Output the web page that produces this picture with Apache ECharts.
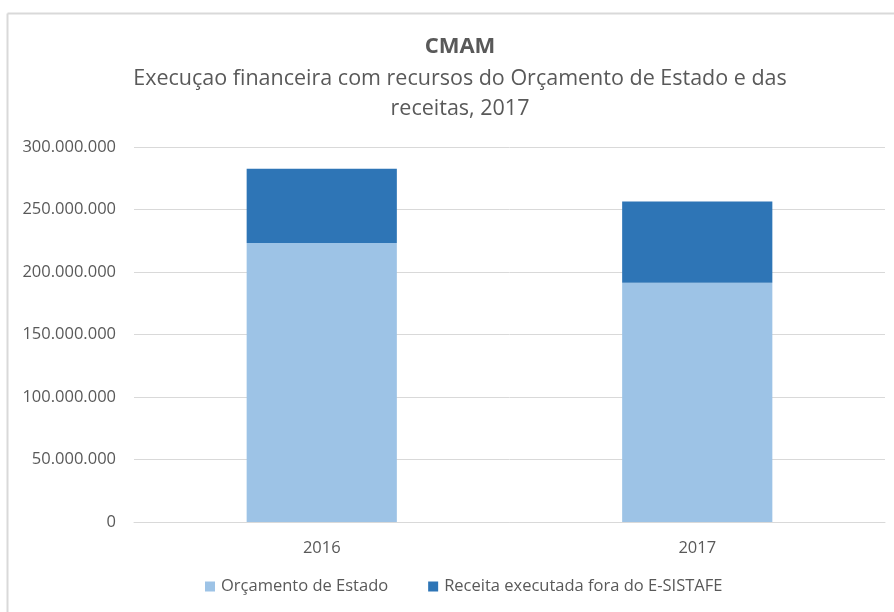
<!DOCTYPE html>
<html>
<head>
<meta charset="utf-8">
<script src="https://cdn.jsdelivr.net/npm/echarts@6/dist/echarts.min.js"></script>
<style>html,body{margin:0;padding:0;background:#fff}#c{width:894px;height:612px}</style>
</head>
<body>
<div id="c"></div>
<script>
const categories = ['2016', '2017'];
const orcamentoEstado = [223300000, 191400000];
const receitaForaESistafe = [59400000, 65000000];
const seriesNames = ['Orçamento de Estado', 'Receita executada fora do E-SISTAFE'];
const titleText = 'CMAM';
const subtitleText = 'Execuçao financeira com recursos do Orçamento de Estado e das\nreceitas, 2017';

const font = 'Open Sans';
const chart = echarts.init(document.getElementById('c'), null, {renderer: 'canvas'});
function fmt(v) {
  return String(Math.round(v)).replace(/\B(?=(\d{3})+(?!\d))/g, '.');
}
chart.setOption({
  animation: false,
  graphic: [
    {type: 'line', shape: {x1: 7.5, y1: 13.5, x2: 894, y2: 13.5}, style: {stroke: '#d9d9d9', lineWidth: 2}},
    {type: 'line', shape: {x1: 7.5, y1: 13.5, x2: 7.5, y2: 612}, style: {stroke: '#d9d9d9', lineWidth: 2}}
  ],
  title: {
    text: titleText,
    subtext: subtitleText,
    left: 455,
    textAlign: 'center',
    top: 29,
    itemGap: 4,
    textStyle: {fontFamily: font, fontSize: 22, fontWeight: 'bold', color: '#595959', lineHeight: 26},
    subtextStyle: {fontFamily: font, fontSize: 21.5, color: '#595959', lineHeight: 30}
  },
  legend: {
    bottom: 12,
    left: 200,
    itemWidth: 10,
    itemHeight: 10,
    itemGap: 40,
    icon: 'rect',
    textStyle: {fontFamily: font, fontSize: 16.5, color: '#595959', padding: [0, 0, 0, 1]},
    data: seriesNames
  },
  grid: {left: 134, right: 9, top: 147, bottom: 90, containLabel: false},
  xAxis: {
    type: 'category',
    data: categories,
    axisTick: {show: false},
    axisLine: {show: true, lineStyle: {color: '#d9d9d9'}},
    axisLabel: {fontFamily: font, fontSize: 16.5, color: '#595959', margin: 18}
  },
  yAxis: {
    type: 'value',
    min: 0,
    max: 300000000,
    interval: 50000000,
    axisLine: {show: false},
    axisTick: {show: false},
    splitLine: {lineStyle: {color: '#d9d9d9', width: 1}},
    axisLabel: {fontFamily: font, fontSize: 16.5, color: '#595959', margin: 18, formatter: fmt}
  },
  series: [
    {name: seriesNames[0], type: 'bar', stack: 't', data: orcamentoEstado, barWidth: '40%', itemStyle: {color: '#9dc3e6'}},
    {name: seriesNames[1], type: 'bar', stack: 't', data: receitaForaESistafe, barWidth: '40%', itemStyle: {color: '#2e75b6'}}
  ]
});
</script>
</body>
</html>
